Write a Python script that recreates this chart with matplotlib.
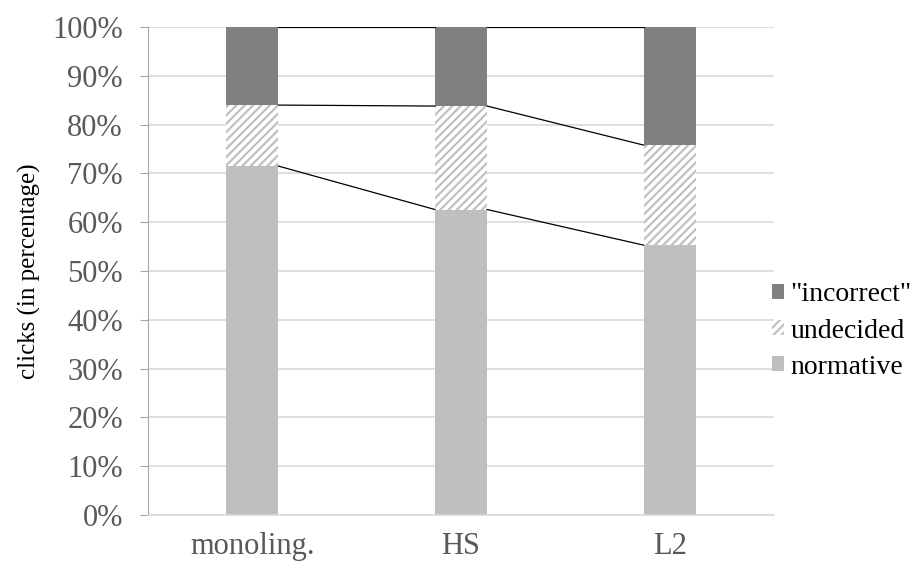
import numpy as np
import matplotlib
matplotlib.use("Agg")
import matplotlib.pyplot as plt
from matplotlib.patches import Patch
from matplotlib.ticker import PercentFormatter

# data (percent of clicks)
groups = ["monoling.", "HS", "L2"]
normative = [71.5, 62.6, 55.3]
undecided = [12.5, 21.2, 20.5]
incorrect = [16.0, 16.2, 24.2]

plt.rcParams['font.family'] = ['Liberation Serif', 'DejaVu Serif']
plt.rcParams['hatch.color'] = '#C0C0C0'
plt.rcParams['hatch.linewidth'] = 1.6

fig = plt.figure(figsize=(9.19, 5.68), dpi=100)
ax = fig.add_axes([148/919, 1-515/568, (774-148)/919, (515-27)/568])

x = np.arange(len(groups))
w = 0.25
norm = np.array(normative)
und = np.array(undecided)
inc = np.array(incorrect)

ax.bar(x, norm, w, color='#BFBFBF', lw=0, zorder=2)
ax.bar(x, und, w, bottom=norm, color='white', edgecolor='#C0C0C0', lw=0, hatch='////', zorder=2)
ax.bar(x, inc, w, bottom=norm+und, color='#808080', lw=0, zorder=2)

# series lines between bars
for tops in [norm, norm+und, norm+und+inc]:
    for i in range(len(x)-1):
        ax.plot([x[i]+w/2, x[i+1]-w/2], [tops[i], tops[i+1]], color='black', lw=0.9, zorder=3)

ax.set_xlim(-0.5, 2.5)
ax.set_ylim(0, 100)
ax.set_yticks(np.arange(0, 101, 10))
ax.yaxis.set_major_formatter(PercentFormatter(decimals=0))
ax.set_xticks(x)
ax.set_xticklabels(groups)
ax.grid(axis='y', color='#D9D9D9', lw=1.2, zorder=0)
ax.set_axisbelow(True)

for s in ['top', 'right']:
    ax.spines[s].set_visible(False)
ax.spines['left'].set_color('#A6A6A6')
ax.spines['bottom'].set_color('#D9D9D9')
ax.spines['bottom'].set_linewidth(1.2)
ax.tick_params(axis='y', length=6, color='#A6A6A6', labelsize=22, labelcolor='#595959', pad=12)
ax.tick_params(axis='x', length=0, labelsize=22, labelcolor='#595959', pad=12)
ax.set_ylabel('clicks (in percentage)', fontsize=18, labelpad=8)

handles = [Patch(facecolor='#808080', lw=0, label='"incorrect"'),
           Patch(facecolor='white', edgecolor='#C0C0C0', lw=0, hatch='////', label='undecided'),
           Patch(facecolor='#BFBFBF', lw=0, label='normative')]
fig.legend(handles=handles, loc='center left', bbox_to_anchor=(772/919, 1-331/568), frameon=False,
           fontsize=20, handlelength=0.42, handleheight=0.42, handletextpad=0.25, labelspacing=0.4,
           borderaxespad=0, borderpad=0)

fig.savefig('out.png', dpi=100)
